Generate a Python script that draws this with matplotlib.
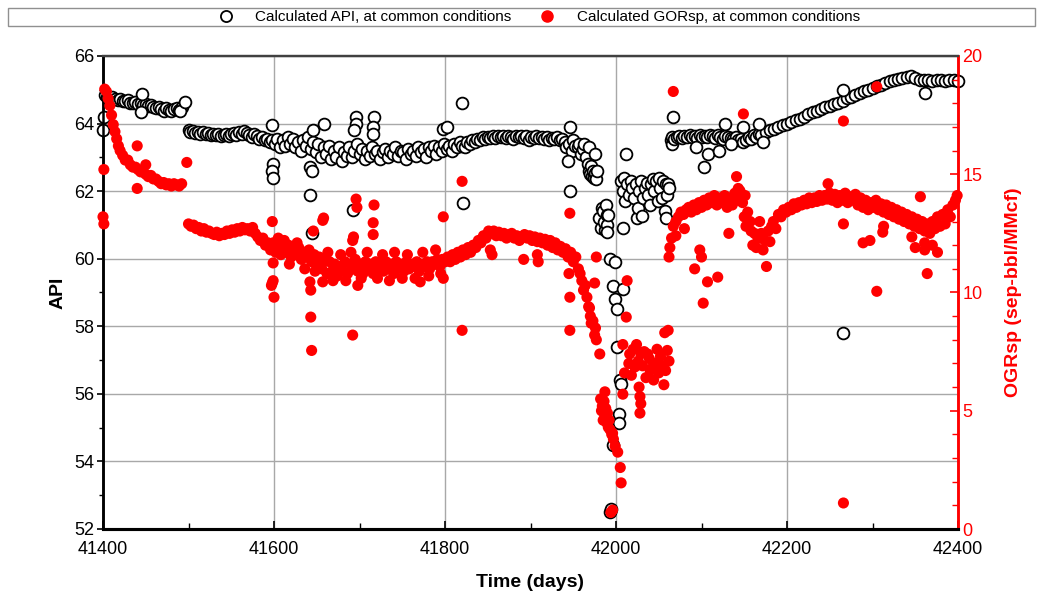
import matplotlib
matplotlib.use("Agg")
import matplotlib.pyplot as plt
from matplotlib.patches import Rectangle
from matplotlib.lines import Line2D
from matplotlib.ticker import MultipleLocator

plt.rcParams['font.family'] = ['Liberation Sans', 'DejaVu Sans']

# ---------------- data: Calculated API (left axis) ----------------
api_band = [
    (41402, 64.85), (41405, 64.8), (41408, 64.75), (41411, 64.78), (41414, 64.72), (41417, 64.7),
    (41420, 64.74), (41423, 64.68), (41426, 64.66), (41429, 64.7), (41432, 64.62), (41435, 64.6),
    (41438, 64.64), (41441, 64.58), (41444, 64.62), (41447, 64.55), (41450, 64.57), (41453, 64.52),
    (41456, 64.55), (41459, 64.5), (41462, 64.47), (41465, 64.5), (41468, 64.42), (41471, 64.38),
    (41474, 64.45), (41477, 64.4), (41480, 64.36), (41483, 64.42), (41486, 64.45), (41489, 64.4),
    (41492, 64.48),
    (41500, 63.82), (41502, 63.75), (41505, 63.78), (41508, 63.72), (41511, 63.76), (41514, 63.7),
    (41517, 63.74), (41520, 63.68), (41523, 63.72), (41526, 63.66), (41529, 63.7), (41532, 63.65),
    (41535, 63.68), (41538, 63.62), (41541, 63.66), (41544, 63.7), (41547, 63.64), (41550, 63.68),
    (41553, 63.72), (41556, 63.66), (41559, 63.75), (41562, 63.7), (41565, 63.78), (41568, 63.72),
    (41571, 63.66), (41574, 63.6), (41577, 63.7), (41580, 63.62), (41583, 63.55), (41586, 63.6),
    (41589, 63.5), (41592, 63.55), (41595, 63.45), (41598, 63.5),
    (41601, 63.4), (41604, 63.55), (41607, 63.3), (41610, 63.5), (41613, 63.35), (41616, 63.6),
    (41619, 63.4), (41622, 63.55), (41625, 63.3), (41628, 63.45), (41631, 63.2), (41634, 63.5),
    (41637, 63.35), (41640, 63.6), (41643, 63.25), (41646, 63.45), (41649, 63.15), (41652, 63.4),
    (41655, 63.0), (41658, 63.3), (41661, 63.1), (41664, 63.35), (41667, 62.95), (41670, 63.2),
    (41673, 63.0), (41676, 63.3), (41679, 62.9), (41682, 63.15), (41685, 63.05), (41688, 63.3),
    (41691, 63.0), (41694, 63.2), (41697, 63.4), (41700, 63.1),
    (41703, 63.25), (41706, 62.95), (41709, 63.2), (41712, 63.05), (41715, 63.3), (41718, 63.1),
    (41721, 63.2), (41724, 62.95), (41727, 63.15), (41730, 63.25), (41733, 63.0), (41736, 63.2),
    (41739, 63.1), (41742, 63.3), (41745, 63.05), (41748, 63.2), (41751, 63.15), (41754, 62.95),
    (41757, 63.25), (41760, 63.1), (41763, 63.2), (41766, 63.05), (41769, 63.3), (41772, 63.15),
    (41775, 63.25), (41778, 63.0), (41781, 63.3), (41784, 63.2), (41787, 63.35), (41790, 63.1),
    (41793, 63.3), (41796, 63.2), (41799, 63.4),
    (41802, 63.25), (41805, 63.35), (41808, 63.2), (41811, 63.4), (41814, 63.3), (41817, 63.45),
    (41820, 63.35), (41823, 63.3), (41826, 63.45), (41829, 63.4), (41832, 63.5), (41835, 63.45),
    (41838, 63.55), (41841, 63.5), (41844, 63.6), (41847, 63.55), (41850, 63.6), (41853, 63.58),
    (41856, 63.62), (41859, 63.56), (41862, 63.62), (41865, 63.6), (41868, 63.64), (41871, 63.58),
    (41874, 63.62), (41877, 63.6), (41880, 63.55), (41883, 63.62), (41886, 63.6), (41889, 63.64),
    (41892, 63.58), (41895, 63.62), (41898, 63.5), (41901, 63.6), (41904, 63.56), (41907, 63.62),
    (41910, 63.58), (41913, 63.6), (41916, 63.55), (41919, 63.6), (41922, 63.5), (41925, 63.58),
    (41928, 63.55), (41931, 63.6), (41934, 63.5), (41937, 63.55), (41940, 63.45),
    (41942, 63.3), (41945, 63.4), (41948, 63.2), (41950, 63.5), (41952, 63.35), (41955, 63.3),
    (41957, 63.4), (41959, 63.1), (41961, 63.25), (41963, 63.4), (41965, 63.0), (41967, 62.8),
    (41968, 63.3), (41969, 62.6), (41970, 62.5), (41971, 62.75), (41972, 62.45), (41973, 62.6),
    (41974, 62.4), (41975, 62.55), (41976, 63.1), (41977, 62.35), (41978, 62.6),
    (41980, 61.2), (41982, 60.9), (41984, 61.5), (41985, 61.4), (41986, 61.1), (41987, 60.85),
    (41988, 61.6), (41989, 61.3), (41990, 61.0), (41991, 61.3), (41989, 60.8),
    (41993, 60.0), (41999, 59.9), (41996, 59.2), (42008, 59.1), (41999, 58.8), (42001, 58.5),
    (42001, 57.4), (42005, 56.4), (42006, 56.3), (42003, 55.4), (42003, 55.15), (41996, 54.5),
    (41993, 52.5), (41994, 52.6),
    (42006, 62.3), (42008, 62.0), (42009, 62.4), (42010, 61.7), (42013, 62.2), (42015, 61.9),
    (42017, 62.3), (42019, 62.1), (42021, 61.8), (42023, 62.2), (42024, 61.2), (42026, 61.5),
    (42027, 62.0), (42029, 62.3), (42030, 61.25), (42032, 61.8), (42034, 62.1), (42036, 62.25),
    (42038, 61.9), (42040, 61.6), (42041, 62.2), (42043, 62.35), (42045, 62.0), (42047, 62.3),
    (42049, 61.7), (42050, 62.4), (42052, 62.1), (42054, 61.8), (42055, 62.3), (42057, 61.4),
    (42058, 62.2), (42059, 61.2), (42060, 61.9), (42061, 62.2), (42062, 62.1), (42008, 60.9),
    (42064, 63.5), (42065, 63.4), (42066, 63.6), (42068, 63.55), (42071, 63.6), (42074, 63.62),
    (42077, 63.58), (42080, 63.63), (42083, 63.6), (42086, 63.65), (42089, 63.6), (42092, 63.62),
    (42095, 63.58), (42098, 63.65), (42101, 63.6), (42104, 63.62), (42107, 63.6), (42110, 63.65),
    (42113, 63.62), (42116, 63.58), (42119, 63.65), (42122, 63.6), (42125, 63.55), (42128, 63.62),
    (42131, 63.6), (42134, 63.58), (42137, 63.55), (42140, 63.6), (42143, 63.5), (42146, 63.55),
    (42149, 63.45), (42152, 63.5), (42155, 63.6), (42158, 63.55), (42161, 63.65), (42164, 63.6),
    (42167, 63.7), (42170, 63.65),
    (42175, 63.75), (42180, 63.8), (42185, 63.85), (42190, 63.9), (42195, 63.95), (42200, 64.0),
    (42205, 64.05), (42210, 64.1), (42215, 64.15), (42220, 64.2), (42225, 64.27), (42230, 64.33),
    (42235, 64.38), (42240, 64.43), (42245, 64.48), (42250, 64.53), (42255, 64.58), (42260, 64.62),
    (42265, 64.66), (42270, 64.75), (42275, 64.8), (42280, 64.85), (42285, 64.9), (42290, 64.95),
    (42295, 65.0), (42300, 65.05), (42305, 65.1), (42310, 65.15), (42315, 65.2), (42320, 65.25),
    (42325, 65.28), (42330, 65.32), (42335, 65.35), (42340, 65.38), (42345, 65.4), (42350, 65.35),
    (42355, 65.3), (42360, 65.28), (42365, 65.3), (42370, 65.25), (42375, 65.28), (42380, 65.3),
    (42385, 65.27), (42390, 65.3), (42395, 65.28), (42400, 65.25),
]

api_outliers = [
    (41400, 63.8), (41401, 64.2), (41446, 64.88), (41445, 64.35), (41490, 64.38), (41496, 64.65),
    (41598, 63.96), (41599, 62.8), (41598, 62.6), (41599, 62.4), (41646, 63.8), (41642, 62.7),
    (41644, 62.6), (41642, 61.9), (41644, 60.75), (41658, 64.0), (41696, 64.2), (41696, 64.0),
    (41693, 63.8), (41692, 61.45), (41717, 64.2), (41716, 63.9), (41716, 63.7), (41798, 63.85),
    (41820, 64.6), (41802, 63.9), (41821, 61.65), (41946, 63.9), (41946, 62.0), (41944, 62.9),
    (42012, 63.1), (42067, 64.2), (42094, 63.3), (42108, 63.1), (42103, 62.7), (42120, 63.2),
    (42127, 64.0), (42149, 63.9), (42167, 64.0), (42135, 63.4), (42172, 63.45),
    (42265, 65.0), (42266, 57.8), (42361, 64.9),
]

# ---------------- data: Calculated GORsp (right axis) ----------------
gor_band = [
    (41402, 18.6), (41404, 18.5), (41406, 18.2), (41408, 17.9), (41410, 17.5), (41412, 17.1),
    (41414, 16.8), (41416, 16.5), (41418, 16.2), (41420, 16.0), (41423, 15.8), (41426, 15.6),
    (41429, 15.6), (41432, 15.4), (41435, 15.3), (41438, 15.3), (41441, 15.2), (41444, 15.1),
    (41447, 15.1), (41450, 15.0), (41453, 14.9), (41456, 14.95), (41459, 14.8), (41462, 14.8),
    (41465, 14.7), (41468, 14.6), (41471, 14.65), (41474, 14.55), (41477, 14.6), (41480, 14.5),
    (41483, 14.6), (41486, 14.55), (41489, 14.5), (41492, 14.6),
    (41500, 12.9), (41503, 12.8), (41506, 12.85), (41509, 12.7), (41512, 12.75), (41515, 12.6),
    (41518, 12.7), (41521, 12.55), (41524, 12.6), (41527, 12.5), (41530, 12.45), (41533, 12.55),
    (41536, 12.4), (41539, 12.5), (41542, 12.45), (41545, 12.6), (41548, 12.5), (41551, 12.65),
    (41554, 12.55), (41557, 12.7), (41560, 12.6), (41563, 12.75), (41566, 12.65), (41569, 12.7),
    (41572, 12.6), (41575, 12.75), (41578, 12.5), (41581, 12.35), (41584, 12.2), (41587, 12.3),
    (41590, 12.0), (41593, 12.1),
    (41596, 11.8), (41599, 12.1), (41602, 11.7), (41605, 12.0), (41608, 11.6), (41611, 11.9),
    (41614, 11.7), (41617, 12.0), (41620, 11.5), (41623, 11.8), (41626, 11.6), (41629, 11.9),
    (41632, 11.4), (41635, 11.7), (41638, 11.5), (41641, 11.8), (41644, 11.3), (41647, 11.6),
    (41650, 11.2), (41653, 11.5), (41656, 11.0), (41659, 11.4), (41662, 10.8), (41665, 11.3),
    (41668, 10.9), (41671, 11.2), (41674, 10.7), (41677, 11.1), (41680, 10.9), (41683, 11.3),
    (41686, 10.8), (41689, 11.2), (41692, 11.0), (41695, 11.4), (41698, 10.9), (41701, 11.2),
    (41704, 10.8), (41707, 11.3), (41710, 11.0), (41713, 11.2), (41716, 10.8), (41719, 11.3),
    (41722, 11.0), (41725, 11.2), (41728, 10.9), (41731, 11.3), (41734, 11.0), (41737, 11.2),
    (41740, 10.8), (41743, 11.3), (41746, 11.1), (41749, 11.2), (41752, 10.9), (41755, 11.3),
    (41758, 11.0), (41761, 11.2), (41764, 11.1), (41767, 11.3), (41770, 10.9), (41773, 11.2),
    (41776, 11.1), (41779, 11.3), (41782, 11.0), (41785, 11.3), (41788, 11.2), (41791, 11.4),
    (41794, 11.1), (41797, 11.4), (41800, 11.3),
    (41803, 11.5), (41806, 11.3), (41809, 11.6), (41812, 11.4), (41815, 11.7), (41818, 11.5),
    (41821, 11.8), (41824, 11.6), (41827, 11.9), (41830, 11.7), (41833, 12.0), (41836, 11.9),
    (41839, 12.2), (41842, 12.1), (41845, 12.4), (41848, 12.3), (41851, 12.6), (41854, 12.5),
    (41857, 12.6), (41860, 12.4), (41863, 12.55), (41866, 12.4), (41869, 12.5), (41872, 12.3),
    (41875, 12.45), (41878, 12.5), (41881, 12.3), (41884, 12.4), (41887, 12.2), (41890, 12.35),
    (41893, 12.45), (41896, 12.3), (41899, 12.4), (41902, 12.2), (41905, 12.35), (41908, 12.15),
    (41911, 12.3), (41914, 12.1), (41917, 12.25), (41920, 12.0), (41923, 12.2), (41926, 11.9),
    (41929, 12.1), (41932, 11.8), (41935, 11.95), (41938, 11.7), (41941, 11.85), (41944, 11.5),
    (41947, 11.7), (41950, 11.3), (41953, 11.5), (41956, 11.0), (41958, 10.8),
    (41960, 10.5), (41962, 10.1), (41964, 10.3), (41966, 9.8), (41968, 9.4), (41970, 9.0),
    (41971, 8.7), (41973, 8.8), (41975, 8.2), (41976, 8.5), (41977, 8.0), (41981, 7.4),
    (41982, 5.5), (41983, 5.0), (41984, 5.2), (41985, 4.6), (41986, 5.4), (41987, 5.8),
    (41987, 4.8), (41988, 5.1), (41989, 4.5), (41990, 4.9), (41991, 4.3), (41992, 4.6),
    (41993, 4.2), (41995, 4.0), (41996, 4.05), (41997, 3.8), (41999, 3.5), (42002, 3.25),
    (42005, 2.6), (42006, 1.95), (41996, 0.8), (41994, 0.7),
    (42008, 7.8), (42010, 6.6), (42008, 5.7), (42012, 8.96), (42013, 10.5), (42015, 7.0),
    (42016, 7.4), (42018, 6.5), (42020, 7.6), (42022, 6.85), (42024, 7.8), (42026, 7.1),
    (42027, 6.0), (42028, 5.6), (42029, 5.3), (42028, 4.9), (42029, 7.4), (42031, 6.9),
    (42033, 7.5), (42035, 6.4), (42037, 7.4), (42039, 7.2), (42040, 6.7), (42042, 6.8),
    (42044, 6.3), (42046, 7.0), (42048, 7.6), (42050, 6.6), (42052, 7.3), (42054, 6.9),
    (42056, 6.1), (42057, 8.3), (42058, 6.7), (42060, 7.55), (42062, 7.1),
    (42062, 11.5), (42063, 11.9), (42065, 12.3), (42067, 12.8), (42070, 13.0), (42073, 13.2),
    (42076, 13.4), (42079, 13.3), (42082, 13.5), (42085, 13.6), (42088, 13.4), (42091, 13.7),
    (42094, 13.5), (42097, 13.8), (42100, 13.6), (42103, 13.9), (42106, 13.7), (42109, 14.0),
    (42112, 13.8), (42115, 14.1), (42118, 13.7), (42121, 14.0), (42124, 13.8), (42127, 14.1),
    (42130, 13.6), (42133, 14.0), (42136, 13.7), (42139, 14.2), (42142, 13.9), (42145, 14.3),
    (42148, 13.8), (42151, 14.1), (42154, 13.4), (42157, 13.0),
    (42158, 12.6), (42160, 12.0), (42162, 12.5), (42164, 11.9), (42166, 12.3), (42168, 13.0),
    (42170, 12.5), (42172, 11.8), (42174, 12.2), (42176, 11.1), (42178, 12.6), (42180, 12.15),
    (42182, 12.8), (42184, 13.0), (42187, 12.7), (42190, 13.3), (42193, 13.2), (42196, 13.5),
    (42199, 13.4), (42202, 13.6), (42205, 13.5), (42208, 13.75), (42211, 13.6), (42214, 13.8),
    (42217, 13.7), (42220, 13.9), (42223, 13.75), (42226, 14.0), (42229, 13.8), (42232, 14.0),
    (42235, 13.85), (42238, 14.1), (42241, 13.9), (42244, 14.1), (42247, 13.95), (42250, 14.2),
    (42253, 13.9), (42256, 14.15), (42259, 13.8), (42262, 14.1), (42265, 13.9), (42268, 14.2),
    (42271, 13.8), (42274, 14.05), (42277, 13.9), (42280, 14.15), (42283, 13.7), (42286, 14.0),
    (42289, 13.6), (42292, 13.9), (42295, 13.5), (42298, 13.8), (42301, 13.6), (42304, 13.9),
    (42307, 13.5), (42310, 13.75), (42313, 13.4), (42316, 13.7), (42319, 13.3), (42322, 13.6),
    (42325, 13.2), (42328, 13.5), (42331, 13.1), (42334, 13.4), (42337, 13.0), (42340, 13.3),
    (42343, 12.9), (42346, 13.2), (42349, 12.8), (42352, 13.1), (42355, 12.7), (42358, 13.0),
    (42361, 12.6), (42364, 12.9), (42367, 12.5), (42370, 13.0), (42373, 12.7), (42376, 13.2),
    (42379, 12.8), (42382, 13.3), (42385, 12.9), (42388, 13.5), (42391, 13.2), (42394, 13.7),
    (42397, 13.9), (42399, 14.1),
]

gor_outliers = [
    (41400, 13.2), (41401, 12.9), (41401, 15.2), (41440, 16.2), (41440, 14.4), (41450, 15.4),
    (41498, 15.5),
    (41598, 13.0), (41599, 11.25), (41598, 10.4), (41600, 9.8), (41599, 10.5), (41597, 10.3),
    (41657, 13.05), (41658, 13.15), (41642, 10.45), (41643, 10.1), (41643, 8.96), (41644, 7.55),
    (41646, 12.6), (41692, 8.2), (41696, 13.95), (41697, 13.6), (41693, 12.35), (41692, 12.2),
    (41698, 10.3), (41717, 13.7), (41716, 12.95), (41716, 12.45), (41657, 10.45), (41798, 13.2),
    (41798, 10.6), (41771, 10.45), (41820, 14.7), (41820, 8.4), (41853, 11.8), (41855, 11.6),
    (41892, 11.4), (41908, 11.6), (41909, 11.3),
    (41605, 12.3), (41612, 12.2), (41618, 11.2), (41627, 12.1), (41636, 11.0), (41648, 10.9),
    (41663, 11.7), (41669, 10.5), (41678, 11.6), (41684, 10.5), (41690, 11.7), (41702, 10.6),
    (41709, 11.7), (41721, 10.6), (41727, 11.6), (41735, 10.5), (41741, 11.7), (41750, 10.6),
    (41756, 11.6), (41765, 10.6), (41774, 11.7), (41781, 10.7), (41789, 11.8), (41795, 10.8),
    (41946, 13.35), (41946, 8.4), (41946, 9.8), (41945, 10.8), (41975, 10.4), (41977, 11.5),
    (41969, 9.35),
    (42067, 18.5), (42149, 17.55), (42141, 14.9), (42143, 14.4), (42150, 13.2), (42152, 12.8),
    (42132, 12.5), (42098, 11.8), (42100, 11.5), (42092, 11.0), (42107, 10.45), (42119, 10.65),
    (42102, 9.55), (42061, 8.4), (42070, 12.4), (42080, 12.7),
    (42248, 14.6), (42266, 17.25), (42266, 12.9), (42266, 1.1), (42305, 18.7), (42305, 10.05),
    (42289, 12.1), (42297, 12.2), (42364, 10.8), (42361, 11.8), (42376, 11.7), (42350, 11.9),
    (42346, 12.35), (42356, 14.05), (42312, 12.55), (42313, 12.8), (42361, 12.1), (42370, 12.0),
]

x_ticks = [41400, 41600, 41800, 42000, 42200, 42400]
api_ticks = [52, 54, 56, 58, 60, 62, 64, 66]
gor_ticks = [0, 5, 10, 15, 20]
legend_labels = ["Calculated API, at common conditions", "Calculated GORsp, at common conditions"]

# ---------------- figure ----------------
W, H = 1039, 595
fig = plt.figure(figsize=(W / 100, H / 100), dpi=100)
ax = fig.add_axes([103 / W, 1 - 529 / H, (958 - 103) / W, (529 - 56) / H])
ax2 = ax.twinx()

api_pts = api_band + api_outliers
gor_pts = gor_band + gor_outliers

ax.scatter([p[0] for p in api_pts], [p[1] for p in api_pts], s=72, facecolors='white',
           edgecolors='black', linewidths=1.3, zorder=3, clip_on=False)
ax2.scatter([p[0] for p in gor_pts], [p[1] for p in gor_pts], s=64, color='#ff0000',
            edgecolors='none', zorder=3, clip_on=False)

ax.set_xlim(41400, 42400)
ax.set_ylim(52, 66)
ax2.set_ylim(0, 20)

ax.set_xticks(x_ticks)
ax.set_yticks(api_ticks)
ax.xaxis.set_minor_locator(MultipleLocator(100))
ax.yaxis.set_minor_locator(MultipleLocator(1))
ax2.set_yticks(gor_ticks)
ax2.yaxis.set_minor_locator(MultipleLocator(1))

ax.grid(True, which='major', color='#a8a8a8', linewidth=1.0)
ax.set_axisbelow(True)

for a in (ax, ax2):
    a.spines['top'].set_color('#404040')
    a.spines['top'].set_linewidth(1.6)
    a.spines['left'].set_color('black')
    a.spines['left'].set_linewidth(1.8)
    a.spines['bottom'].set_color('black')
    a.spines['bottom'].set_linewidth(2.2)
    a.spines['right'].set_color('#ff0000')
    a.spines['right'].set_linewidth(1.8)

ax.tick_params(axis='x', which='major', direction='in', length=6, width=1.2, labelsize=13,
               pad=9, colors='black')
ax.tick_params(axis='x', which='minor', direction='in', length=4, width=1.0)
ax.tick_params(axis='y', which='major', direction='out', length=4, width=1.2, labelsize=13, pad=2)
ax.tick_params(axis='y', which='minor', direction='out', length=3, width=1.0)
ax2.tick_params(axis='y', which='major', direction='in', length=6, width=1.2, labelsize=13,
                colors='#ff0000', pad=3)
ax2.tick_params(axis='y', which='minor', direction='in', length=4, width=1.0, colors='#ff0000')

ax.set_xlabel("Time (days)", fontsize=14, fontweight='bold', labelpad=11)
ax.set_ylabel("API", fontsize=14, fontweight='bold', labelpad=6)
ax2.set_ylabel("OGRsp (sep-bbl/MMcf)", fontsize=14, fontweight='bold', color='#ff0000', labelpad=16)

# legend box across the top
fig.patches.append(Rectangle((8 / W, 1 - 26 / H), (1035 - 8) / W, 18 / H, transform=fig.transFigure,
                             fill=False, edgecolor='#909090', linewidth=1.0))
handles = [
    Line2D([], [], linestyle='none', marker='o', markersize=8, markerfacecolor='white',
           markeredgecolor='black', markeredgewidth=1.3),
    Line2D([], [], linestyle='none', marker='o', markersize=8, markerfacecolor='#ff0000',
           markeredgecolor='#ff0000'),
]
fig.legend(handles, legend_labels, loc='center', bbox_to_anchor=(538 / W, 1 - 17 / H), ncol=2,
           frameon=False, fontsize=11, handletextpad=1.3, columnspacing=1.8, handlelength=1.2,
           borderpad=0, borderaxespad=0)

fig.savefig("out.png", dpi=100)
